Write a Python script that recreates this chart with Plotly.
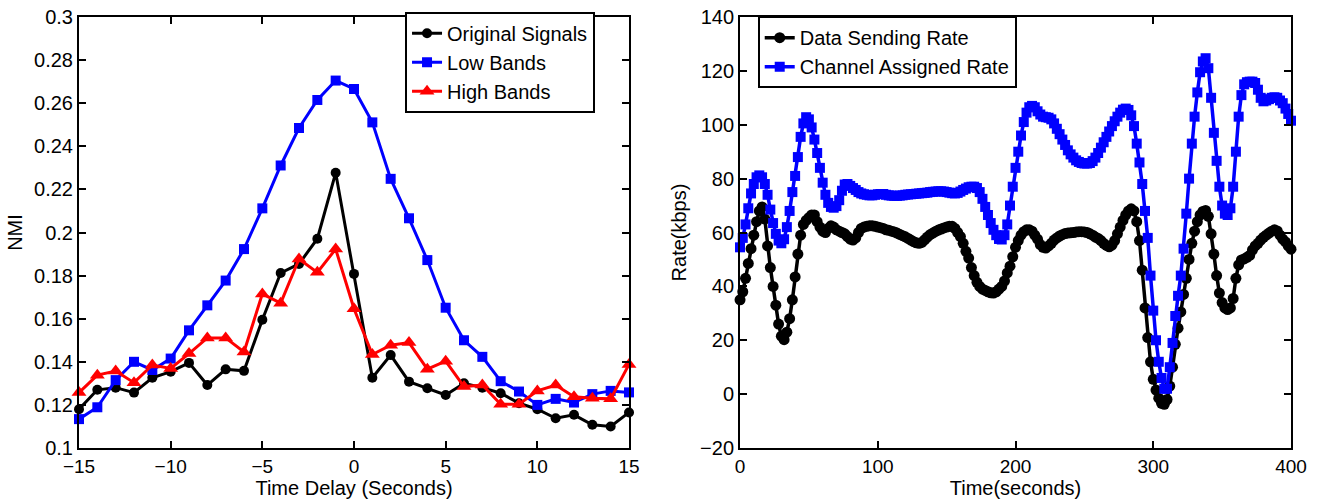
import plotly.graph_objects as go

# ---------------- Left panel data ----------------
delay_s = [-15, -14, -13, -12, -11, -10, -9, -8, -7, -6, -5, -4, -3, -2, -1, 0,
           1, 2, 3, 4, 5, 6, 7, 8, 9, 10, 11, 12, 13, 14, 15]
original_signals = [0.118, 0.127, 0.128, 0.1257, 0.1326, 0.1354, 0.1395, 0.1292, 0.1365, 0.1358,
                    0.1595, 0.1812, 0.1854, 0.1971, 0.2277, 0.1808, 0.1326, 0.1431, 0.1308, 0.1277,
                    0.1246, 0.130, 0.128, 0.1254, 0.1208, 0.118, 0.1138, 0.1154, 0.1108, 0.110, 0.1165]
low_bands = [0.1134, 0.1189, 0.1315, 0.140, 0.1362, 0.1415, 0.1546, 0.1662, 0.1777, 0.1923,
             0.2112, 0.2311, 0.2485, 0.2615, 0.2705, 0.2666, 0.2511, 0.2249, 0.2066, 0.1872,
             0.1651, 0.150, 0.1423, 0.131, 0.1262, 0.120, 0.1228, 0.1211, 0.125, 0.1265, 0.1258]
high_bands = [0.1257, 0.1338, 0.1357, 0.1303, 0.1385, 0.1369, 0.1438, 0.1511, 0.1511, 0.1446,
              0.1715, 0.1672, 0.1877, 0.1815, 0.1923, 0.1646, 0.1434, 0.1477, 0.1489, 0.1366,
              0.1403, 0.1285, 0.1292, 0.1203, 0.1203, 0.1265, 0.1292, 0.1238, 0.1231, 0.1228, 0.1388]
left_xticks = [-15, -10, -5, 0, 5, 10, 15]
left_yticks = [0.1, 0.12, 0.14, 0.16, 0.18, 0.2, 0.22, 0.24, 0.26, 0.28, 0.3]
left_yticktext = ["0.1", "0.12", "0.14", "0.16", "0.18", "0.2", "0.22", "0.24", "0.26", "0.28", "0.3"]

# ---------------- Right panel data (sampled every 2 s) ----------------
time_s = list(range(0, 401, 2))
data_sending_rate = [
    35, 38, 43, 48.5, 54, 59, 64, 68, 69.5, 65,
    55, 47, 40, 33, 26, 21.5, 20.2, 23, 28, 35,
    43.5, 52, 59, 63, 64.5, 65.5, 66.5, 66.5, 64, 62,
    60.5, 60, 61.5, 62.5, 62, 61, 60.5, 60, 59.5, 58.5,
    57.5, 57.2, 58, 60, 61.5, 62, 62.3, 62.5, 62.5, 62.3,
    62, 61.8, 61.5, 61, 60.8, 60.5, 60.2, 59.8, 59.3, 58.8,
    58.4, 57.8, 57.2, 56.6, 56.2, 56, 56.3, 57.3, 58.3, 59.2,
    59.8, 60.4, 60.9, 61.3, 61.7, 62, 62.3, 62.3, 61.5, 60,
    58.5, 56, 53, 50.5, 47, 44, 41.5, 40, 39, 38.5,
    38, 37.6, 37.5, 38, 39, 40, 42, 45, 47.5, 51,
    54.5, 57, 59, 60.3, 61, 61, 60.5, 59, 57.5, 55.5,
    54.5, 54.2, 55, 56, 57.2, 58, 58.7, 59.2, 59.6, 59.8,
    59.9, 60, 60.2, 60.3, 60.3, 60.2, 60, 59.5, 59, 58.3,
    57.8, 57, 56, 55.2, 54.7, 55.3, 57, 59.5, 62, 64.5,
    66.5, 68, 68.8, 68, 64, 57, 46, 32, 21, 12,
    5.5, 1.5, -1.5, -3.4, -3.8, -2, 3, 10, 18.5, 24.5,
    30.5, 37, 43, 50, 56, 60.5, 64, 66.5, 67.8, 68.2,
    66, 59.5, 52, 44, 37.5, 34, 32, 31.4, 32, 35.5,
    43, 48, 49.8, 50.2, 50.8, 51.5, 53.5, 55, 56, 57.2,
    58.2, 59, 59.8, 60.5, 61, 60.6, 59, 57.5, 56.5, 55,
    53.8]
channel_assigned_rate = [
    54.5, 58, 63, 69, 74.5, 78, 80.5, 81.2, 80.5, 78,
    74, 68.5, 63.5, 59.5, 57, 56, 57.5, 62, 68, 75,
    81, 88, 95.5, 100.5, 102.8, 102, 99, 94.5, 89.5, 84,
    78.5, 74, 71, 69.5, 69.2, 69.8, 72, 75.5, 77.8, 78,
    77.3, 76.5, 75.8, 75, 74.5, 74.2, 74, 73.8, 73.8, 74,
    74.2, 74.3, 74.3, 74, 73.8, 73.7, 73.6, 73.6, 73.7, 73.8,
    74, 74.1, 74.2, 74.3, 74.4, 74.5, 74.6, 74.7, 74.8, 75,
    75.1, 75.2, 75.3, 75.3, 75.2, 75, 74.8, 74.6, 74.5, 74.7,
    75.2, 75.8, 76.3, 76.8, 77, 77, 76.5, 75, 72.5, 69.5,
    66.5, 63.5, 61, 59, 57.6, 57.4, 59, 63, 70, 77,
    84, 90, 96, 101, 104.5, 106.5, 107, 106.5, 105, 103.8,
    103, 102.8, 102.6, 102, 100.5, 98.5, 96.5, 94.5, 92.5, 90.5,
    89, 87.8, 86.8, 86.2, 85.8, 85.6, 85.6, 85.8, 86.5, 87.8,
    89.5, 91.5, 93.5, 95.5, 97.5, 99.5, 101.3, 103, 104.5, 105.6,
    106, 105.5, 103.5, 99.5, 93, 86, 78, 68, 58, 44,
    31, 20, 12, 6, 2, 2, 10, 19, 29, 36.5,
    44, 54, 67, 80, 93, 103, 112, 119.5, 123.5, 124.7,
    121, 110, 97, 86.6, 77, 70, 67, 66.5, 69, 77,
    90, 103, 111, 115, 115.8, 116, 116, 115.5, 113, 110,
    108.7, 109, 109.5, 110, 110.2, 110, 109, 108, 106, 104,
    101.5]
right_xticks = [0, 100, 200, 300, 400]
right_yticks = [-20, 0, 20, 40, 60, 80, 100, 120, 140]

FONT = "Liberation Sans, Arial, Helvetica, sans-serif"
FS = 20

fig = go.Figure()

# Left panel traces
fig.add_trace(go.Scatter(x=delay_s, y=original_signals, name="Original Signals",
                         mode="lines+markers", line=dict(color="black", width=3),
                         marker=dict(symbol="circle", size=10, color="black"),
                         cliponaxis=False, xaxis="x", yaxis="y", legend="legend"))
fig.add_trace(go.Scatter(x=delay_s, y=low_bands, name="Low Bands",
                         mode="lines+markers", line=dict(color="#0000ff", width=3),
                         marker=dict(symbol="square", size=10, color="#0000ff"),
                         cliponaxis=False, xaxis="x", yaxis="y", legend="legend"))
fig.add_trace(go.Scatter(x=delay_s, y=high_bands, name="High Bands",
                         mode="lines+markers", line=dict(color="#ff0000", width=3),
                         marker=dict(symbol="triangle-up", size=13, color="#ff0000"),
                         cliponaxis=False, xaxis="x", yaxis="y", legend="legend"))

# Right panel traces
fig.add_trace(go.Scatter(x=time_s, y=data_sending_rate, name="Data Sending Rate",
                         mode="lines+markers", line=dict(color="black", width=3.5),
                         marker=dict(symbol="circle", size=11, color="black"),
                         cliponaxis=False, xaxis="x2", yaxis="y2", legend="legend2"))
fig.add_trace(go.Scatter(x=time_s, y=channel_assigned_rate, name="Channel Assigned Rate",
                         mode="lines+markers", line=dict(color="#0000ff", width=3.5),
                         marker=dict(symbol="square", size=10, color="#0000ff"),
                         cliponaxis=False, xaxis="x2", yaxis="y2", legend="legend2"))

axis_common = dict(showline=True, linecolor="black", linewidth=2, mirror="ticks",
                   ticks="inside", ticklen=7, tickwidth=1.5, tickcolor="black",
                   showgrid=False, zeroline=False, automargin=False)
yfont = dict(family=FONT, size=FS, color="black")
xfont = dict(family=FONT, size=19, color="black")

fig.update_layout(
    width=1318, height=499,
    margin=dict(l=79, r=27, t=14, b=51),
    paper_bgcolor="white", plot_bgcolor="white",
    font=dict(family=FONT, size=FS, color="black"),
    xaxis=dict(domain=[0, 0.4538], range=[-15, 15], tickvals=left_xticks, anchor="y",
               tickfont=xfont,
               title=dict(text="Time Delay (Seconds)", standoff=5,
                          font=dict(family=FONT, size=FS)), **axis_common),
    yaxis=dict(domain=[0, 1], range=[0.1, 0.3], tickvals=left_yticks, ticktext=left_yticktext,
               anchor="x", tickfont=yfont,
               title=dict(text="NMI", standoff=6, font=dict(family=FONT, size=FS)),
               **axis_common),
    xaxis2=dict(domain=[0.5454, 1], range=[0, 400], tickvals=right_xticks, anchor="y2",
                tickfont=xfont,
                title=dict(text="Time(seconds)", standoff=5, font=dict(family=FONT, size=FS)),
                **axis_common),
    yaxis2=dict(domain=[0, 1], range=[-20, 140], tickvals=right_yticks, anchor="x2",
                tickfont=yfont,
                title=dict(text="Rate(kbps)", standoff=8, font=dict(family=FONT, size=FS)),
                **axis_common),
    legend=dict(x=0.269, y=1.012, xanchor="left", yanchor="top",
                bgcolor="white", bordercolor="black", borderwidth=2,
                font=dict(family=FONT, size=FS, color="black"), tracegroupgap=0),
    legend2=dict(x=0.560, y=1.002, xanchor="left", yanchor="top",
                 bgcolor="white", bordercolor="black", borderwidth=2,
                 font=dict(family=FONT, size=FS, color="black"), tracegroupgap=0),
    showlegend=True,
)

fig.write_html("out.html")
